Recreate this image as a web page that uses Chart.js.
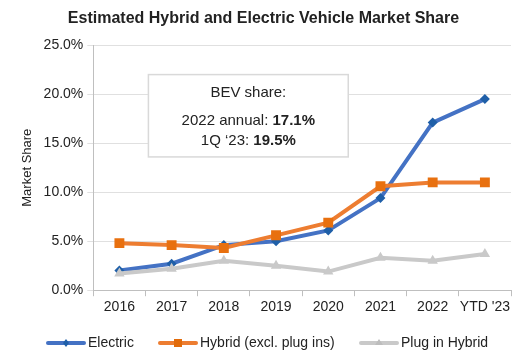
<!DOCTYPE html>
<html>
<head>
<meta charset="utf-8">
<script src="https://cdn.jsdelivr.net/npm/chart.js@4"></script>
<style>
  html, body { margin: 0; padding: 0; background: #fff; }
  #wrap { width: 523px; height: 358px; position: relative; }
</style>
</head>
<body>
<div id="wrap"><canvas id="chart"></canvas></div>
<script>
// Data
const years = ['2016', '2017', '2018', '2019', '2020', '2021', '2022', "YTD '23"];
const electric = [2.0, 2.7, 4.6, 5.0, 6.1, 9.4, 17.1, 19.5];
const hybrid = [4.8, 4.6, 4.3, 5.6, 6.9, 10.6, 11.0, 11.0];
const plugIn = [1.7, 2.2, 3.0, 2.5, 1.9, 3.3, 3.0, 3.7];
const yTicks = [0, 5, 10, 15, 20, 25];

const FONT = "'Liberation Sans', Arial, sans-serif";

// Callout box with BEV share notes
const calloutPlugin = {
    id: 'callout',
    afterDatasetsDraw(chart) {
        const ctx = chart.ctx;
        const x = chart.scales.x;
        const y = chart.scales.y;
        const left = x.getPixelForValue(0) + 29;
        const right = x.getPixelForValue(4) + 20;
        const top = y.getPixelForValue(22.0);
        const bottom = y.getPixelForValue(13.6);
        ctx.save();
        ctx.fillStyle = '#fff';
        ctx.fillRect(left, top, right - left, bottom - top);
        ctx.strokeStyle = '#d9d9d9';
        ctx.lineWidth = 1.5;
        ctx.strokeRect(left, top, right - left, bottom - top);
        const cx = (left + right) / 2;
        ctx.fillStyle = '#222';
        ctx.textBaseline = 'middle';
        ctx.textAlign = 'center';
        ctx.font = '15px ' + FONT;
        ctx.fillText('BEV share:', cx, top + 18);
        // mixed weight lines
        const lines = [
            ['2022 annual: ', '17.1%', top + 46],
            ['1Q \u201823: ', '19.5%', top + 66]
        ];
        lines.forEach(([a, b, ly]) => {
            ctx.font = '15px ' + FONT;
            const wa = ctx.measureText(a).width;
            ctx.font = 'bold 15px ' + FONT;
            const wb = ctx.measureText(b).width;
            const sx = cx - (wa + wb) / 2;
            ctx.textAlign = 'left';
            ctx.font = '15px ' + FONT;
            ctx.fillText(a, sx, ly);
            ctx.font = 'bold 15px ' + FONT;
            ctx.fillText(b, sx + wa, ly);
        });
        ctx.restore();
    }
};

// Legend drawn with line + marker samples
const legendPlugin = {
    id: 'lineLegend',
    afterDraw(chart) {
        const ctx = chart.ctx;
        const items = [
            { label: 'Electric', color: '#4472c4', mark: '#1f5fa8', style: 'rectRot', x: 46 },
            { label: 'Hybrid (excl. plug ins)', color: '#ed7d31', mark: '#e26b0a', style: 'rect', x: 158 },
            { label: 'Plug in Hybrid', color: '#c9c9c9', mark: '#bdbdbd', style: 'triangle', x: 359 }
        ];
        const ly = 343;
        ctx.save();
        items.forEach(it => {
            ctx.strokeStyle = it.color;
            ctx.lineWidth = 4;
            ctx.lineCap = 'round';
            ctx.beginPath();
            ctx.moveTo(it.x + 2, ly);
            ctx.lineTo(it.x + 38, ly);
            ctx.stroke();
            ctx.fillStyle = it.mark;
            ctx.beginPath();
            if (it.style === 'rect') ctx.fillRect(it.x + 16, ly - 4, 8, 8);
            else if (it.style === 'rectRot') {
                ctx.moveTo(it.x + 20, ly - 4); ctx.lineTo(it.x + 23, ly);
                ctx.lineTo(it.x + 20, ly + 4); ctx.lineTo(it.x + 17, ly);
                ctx.fill();
            } else {
                ctx.moveTo(it.x + 20, ly - 4); ctx.lineTo(it.x + 24, ly + 2);
                ctx.lineTo(it.x + 16, ly + 2); ctx.fill();
            }
            ctx.fillStyle = '#222';
            ctx.font = '14px ' + FONT;
            ctx.textAlign = 'left';
            ctx.textBaseline = 'middle';
            ctx.fillText(it.label, it.x + 42, ly);
        });
        ctx.restore();
    }
};

function makeSet(label, data, color, markColor, style, radius) {
    return {
        label: label,
        data: data,
        borderColor: color,
        backgroundColor: markColor,
        pointBackgroundColor: markColor,
        pointBorderColor: markColor,
        pointStyle: style,
        pointRadius: radius,
        pointBorderWidth: 0,
        borderWidth: 4,
        tension: 0,
        fill: false
    };
}

new Chart(document.getElementById('chart'), {
    type: 'line',
    data: {
        labels: years,
        datasets: [
            makeSet('Plug in Hybrid', plugIn, '#c9c9c9', '#c9c9c9', 'triangle', 6),
            makeSet('Hybrid (excl. plug ins)', hybrid, '#ed7d31', '#e8700f', 'rect', 7),
            makeSet('Electric', electric, '#4472c4', '#1f5fa8', 'rectRot', 5)
        ]
    },
    options: {
        responsive: true,
        maintainAspectRatio: false,
        animation: false,
        layout: { padding: { top: 4, right: 12, bottom: 39, left: 16 } },
        scales: {
            x: {
                offset: true,
                grid: {
                    display: true,
                    offset: true,
                    drawOnChartArea: false,
                    tickLength: 6,
                    color: '#bfbfbf'
                },
                border: { color: '#bfbfbf' },
                ticks: {
                    color: '#222',
                    font: { family: FONT, size: 14 },
                    padding: 3,
                    maxRotation: 0,
                    minRotation: 0,
                    autoSkip: false
                }
            },
            y: {
                min: 0,
                max: 25,
                afterBuildTicks: axis => { axis.ticks = yTicks.map(v => ({ value: v })); },
                grid: { color: '#e0e0e0', tickLength: 6 },
                border: { color: '#bfbfbf' },
                ticks: {
                    color: '#222',
                    font: { family: FONT, size: 14 },
                    padding: 4,
                    callback: v => v.toFixed(1) + '%'
                },
                title: {
                    display: true,
                    text: 'Market Share',
                    color: '#222',
                    font: { family: FONT, size: 13 },
                    padding: { bottom: 4 }
                }
            }
        },
        plugins: {
            legend: { display: false },
            tooltip: { enabled: false },
            title: {
                display: true,
                text: 'Estimated Hybrid and Electric Vehicle Market Share',
                color: '#222',
                font: { family: FONT, size: 16, weight: 'bold' },
                padding: { top: 5, bottom: 17 }
            }
        }
    },
    plugins: [calloutPlugin, legendPlugin]
});
</script>
</body>
</html>
